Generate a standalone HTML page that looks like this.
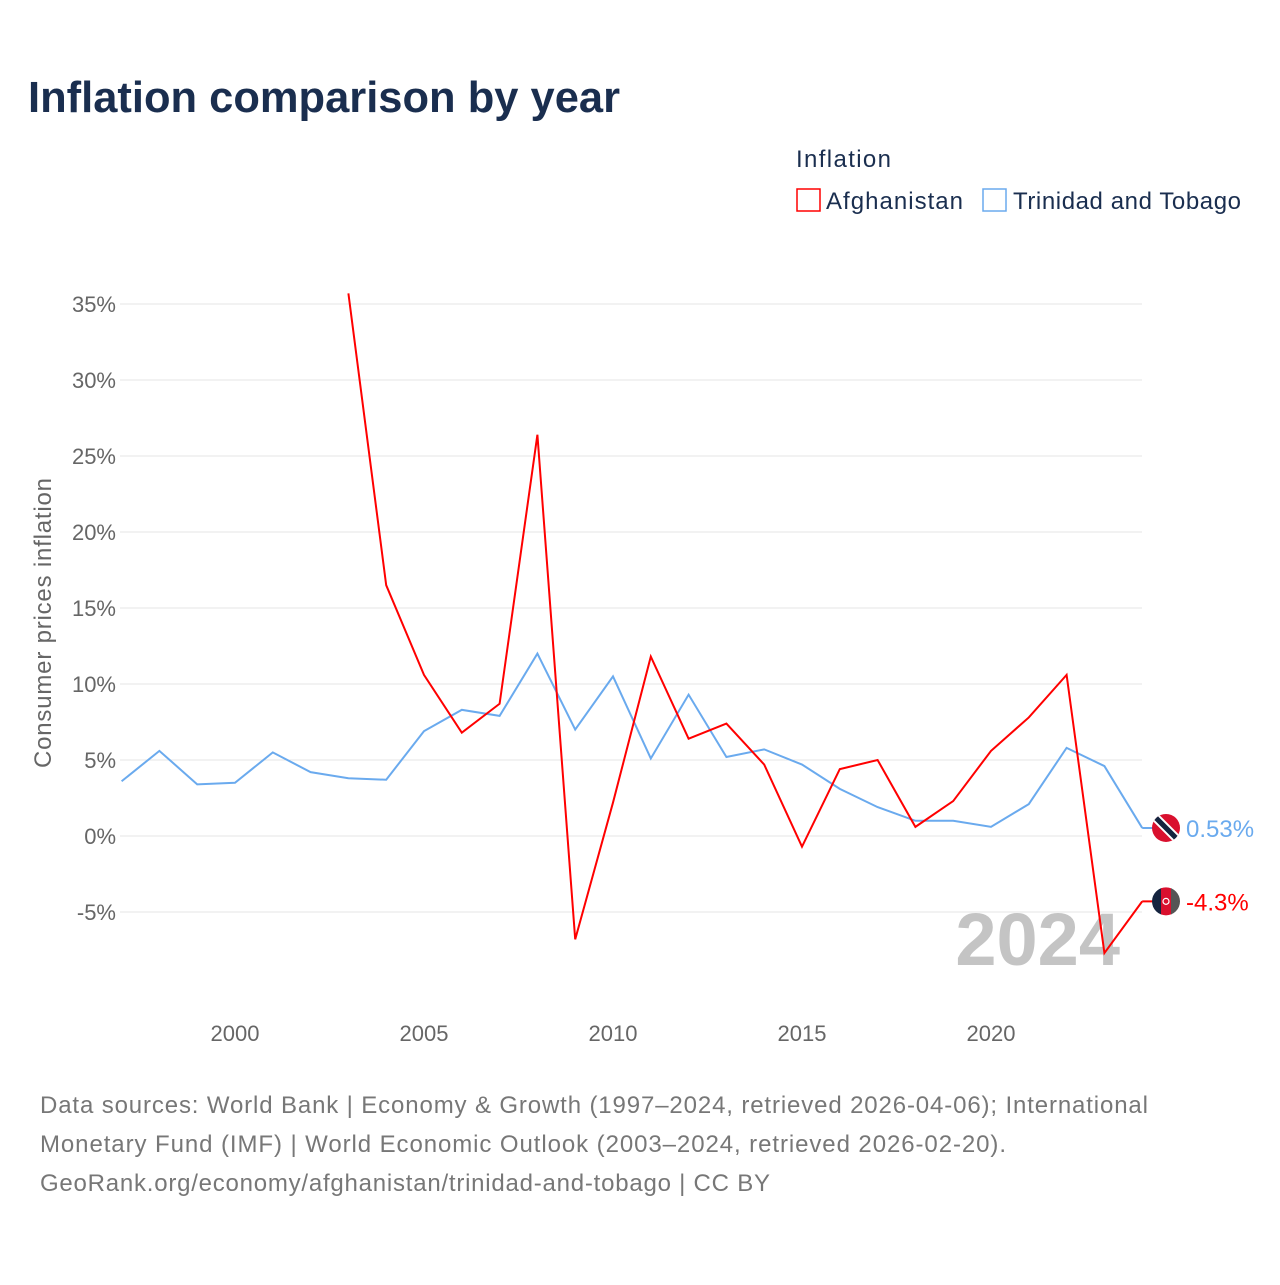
<!DOCTYPE html>
<html><head><meta charset="utf-8">
<style>
body{margin:0;background:#fff;width:1280px;height:1280px;overflow:hidden;font-family:"Liberation Sans",sans-serif;}
</style></head>
<body>
<svg id="chart" width="1280" height="1280" xmlns="http://www.w3.org/2000/svg">
<text x="28" y="112" font-size="44" font-weight="bold" fill="#1a2e4f" textLength="592" lengthAdjust="spacingAndGlyphs">Inflation comparison by year</text>
<text x="796" y="167" font-size="24" fill="#1a2e4f" textLength="95">Inflation</text>
<g><rect x="797" y="189" width="23" height="22" fill="none" stroke="#ff0000" stroke-width="1.5"/><text x="826" y="209" font-size="24" fill="#1a2e4f" textLength="137">Afghanistan</text></g>
<g><rect x="983" y="189" width="23" height="22" fill="none" stroke="#6aaaee" stroke-width="1.5"/><text x="1013" y="209" font-size="24" fill="#1a2e4f" textLength="228">Trinidad and Tobago</text></g>
<g id="grid"></g><g id="yticks"></g><g id="xticks"></g>
<text x="1120" y="965" font-size="74" font-weight="bold" fill="#c4c4c4" text-anchor="end">2024</text>
<g id="series"></g>
<text transform="translate(51,623) rotate(-90)" font-size="24" fill="#666" text-anchor="middle" textLength="290">Consumer prices inflation</text>
<g font-size="24" fill="#777">
<text x="40" y="1113" textLength="1108">Data sources: World Bank | Economy &amp; Growth (1997–2024, retrieved 2026-04-06); International</text>
<text x="40" y="1152" textLength="966">Monetary Fund (IMF) | World Economic Outlook (2003–2024, retrieved 2026-02-20).</text>
<text x="40" y="1191" textLength="730">GeoRank.org/economy/afghanistan/trinidad-and-tobago | CC BY</text>
</g>
</svg>
<script>
const yTicks=[-5,0,5,10,15,20,25,30,35];
const xTicks=[2000,2005,2010,2015,2020];
const afgYears=[2003,2004,2005,2006,2007,2008,2009,2010,2011,2012,2013,2014,2015,2016,2017,2018,2019,2020,2021,2022,2023,2024];
const afgValues=[35.7,16.5,10.6,6.8,8.7,26.4,-6.8,2.2,11.8,6.4,7.4,4.7,-0.7,4.4,5.0,0.6,2.3,5.6,7.8,10.6,-7.7,-4.3];
const ttoYears=[1997,1998,1999,2000,2001,2002,2003,2004,2005,2006,2007,2008,2009,2010,2011,2012,2013,2014,2015,2016,2017,2018,2019,2020,2021,2022,2023,2024];
const ttoValues=[3.6,5.6,3.4,3.5,5.5,4.2,3.8,3.7,6.9,8.3,7.9,12.0,7.0,10.5,5.1,9.3,5.2,5.7,4.7,3.1,1.9,1.0,1.0,0.6,2.1,5.8,4.6,0.53];
const NS="http://www.w3.org/2000/svg";
const xs=y=>121.6+(y-1997)*37.8;
const ys=v=>836-v*15.2;
function mk(t,a,p){const e=document.createElementNS(NS,t);for(const k in a)e.setAttribute(k,a[k]);document.getElementById(p).appendChild(e);return e;}
yTicks.forEach(v=>{
 const l=mk('line',{x1:120,x2:1142,y1:ys(v),y2:ys(v),stroke:'#e6e6e6','stroke-width':1},'grid');
 
 
 const t=mk('text',{x:116,y:ys(v)+8,'font-size':22,fill:'#666','text-anchor':'end'},'yticks');
 t.textContent=v+'%';
 
 
});
xTicks.forEach(y=>{
 const t=mk('text',{x:xs(y),y:1041,'font-size':22,fill:'#666','text-anchor':'middle'},'xticks');
 t.textContent=y;
 
 
});
function line(years,vals,color,name){
 const pts=years.map((y,i)=>xs(y)+','+ys(vals[i])).join(' ');
 const p=mk('polyline',{points:pts,fill:'none',stroke:color,'stroke-width':2},'series');
 
 
 const last=vals[vals.length-1];
 mk('line',{x1:xs(years[years.length-1]),x2:1160,y1:ys(last),y2:ys(last),stroke:color,'stroke-width':2},'series');
}
line(ttoYears,ttoValues,'#6aaaee','series-trinidad-and-tobago');
line(afgYears,afgValues,'#ff0000','series-afghanistan');
const tl=ys(ttoValues[ttoValues.length-1]);
const g1=mk('g',{},'series');


g1.innerHTML=`<clipPath id="c1"><circle cx="1166" cy="${tl}" r="14"/></clipPath><g clip-path="url(#c1)"><rect x="1150" y="${tl-16}" width="32" height="32" fill="#d9102e"/><line x1="1154" y1="${tl-12}" x2="1178" y2="${tl+12}" stroke="#fff" stroke-width="9"/><line x1="1154" y1="${tl-12}" x2="1178" y2="${tl+12}" stroke="#15243f" stroke-width="5"/></g>`;
const t1=mk('text',{x:1186,y:tl+9,'font-size':24,fill:'#6aaaee'},'series');
t1.textContent=ttoValues[ttoValues.length-1]+'%';


const al=ys(afgValues[afgValues.length-1]);
const g2=mk('g',{},'series');


g2.innerHTML=`<clipPath id="c2"><circle cx="1166" cy="${al}" r="14"/></clipPath><g clip-path="url(#c2)"><rect x="1150" y="${al-16}" width="12" height="32" fill="#15243f"/><rect x="1161" y="${al-16}" width="11" height="32" fill="#d9102e"/><rect x="1171" y="${al-16}" width="12" height="32" fill="#555"/><circle cx="1166" cy="${al}" r="3" fill="none" stroke="#fff" stroke-width="1.2"/></g>`;
const t2=mk('text',{x:1186,y:al+9,'font-size':24,fill:'#ff0000'},'series');
t2.textContent=afgValues[afgValues.length-1]+'%';


</script>
</body></html>
